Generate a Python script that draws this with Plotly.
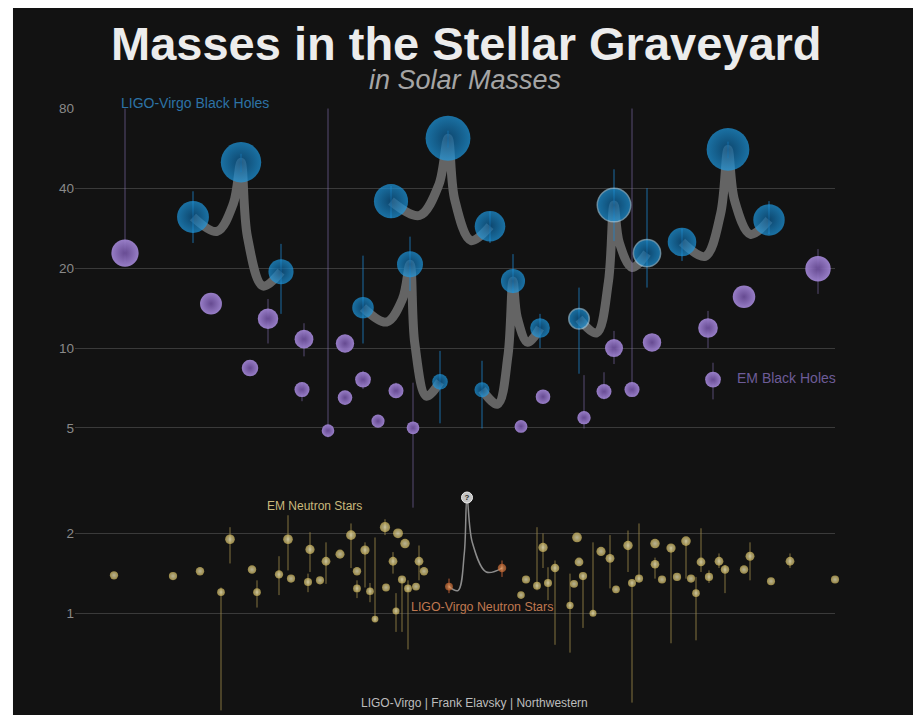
import numpy as np
import plotly.graph_objects as go

# LIGO-Virgo black hole mergers (left component, final remnant, right component)
merger_x_left = [118, 316, 288, 407, 504, 607]
merger_m_left = [31.2, 35.8, 14.2, 6.96, 12.9, 25.1]
merger_hi_left = [39.0, 40.8, 22.3, 8.95, 16.9, 28.2]
merger_lo_left = [24.9, 30.9, 10.4, 4.97, 8.0, 21.3]

merger_x_final = [166, 373, 335, 438, 539, 653]
merger_m_final = [50.2, 61.8, 20.7, 17.9, 34.6, 56.1]
merger_hi_final = [54.0, 66.0, 26.3, 22.6, 47.2, 60.0]
merger_lo_final = [46.0, 57.0, 16.4, 16.1, 25.3, 52.0]

merger_x_right = [206, 415, 365, 465, 572, 694]
merger_m_right = [19.4, 28.8, 7.46, 11.9, 22.8, 30.4]
merger_hi_right = [24.7, 32.7, 9.75, 13.45, 40.1, 35.8]
merger_lo_right = [13.45, 24.9, 5.2, 10.0, 16.9, 26.9]

merger_candidate = [False, False, False, False, True, False]

# EM black holes
em_bh_x = [50, 136, 175, 193, 229, 227, 253, 270, 270, 288, 303, 321,
           338, 446, 468, 509, 529, 539, 557, 577, 633, 638, 669, 743]
em_bh_m = [22.8, 14.7, 8.4, 12.9, 10.8, 6.97, 4.88, 10.4, 6.5, 7.6, 5.3, 6.9,
           5.0, 5.06, 6.55, 5.46, 6.85, 10.0, 6.97, 10.5, 11.9, 7.6, 15.6, 19.9]
em_bh_hi = [80, 14.7, 8.4, 15.3, 12.4, 7.4, 80, 10.4, 6.5, 8.2, 5.3, 7.4,
            7.4, 5.06, 6.55, 7.9, 8.1, 11.6, 80, 10.5, 13.8, 8.8, 15.6, 23.6]
em_bh_lo = [21.0, 14.7, 8.4, 10.4, 9.3, 6.3, 4.6, 10.4, 6.5, 7.0, 5.3, 6.5,
            2.5, 5.06, 6.55, 4.97, 6.4, 8.7, 6.6, 10.5, 10.0, 6.4, 15.6, 16.0]

# EM neutron stars
ns_x = [39, 98, 125, 146, 155, 177, 182, 204, 213, 216, 233, 235, 245, 251,
        265, 276, 282, 282, 290, 295, 300, 310, 323, 330, 318, 344, 349, 327,
        311, 333, 341, 321, 451, 446, 462, 468, 473, 480, 502, 504, 495, 499,
        508, 518, 526, 535, 541, 553, 557, 564, 580, 580, 587, 596, 602, 611,
        616, 621, 626, 634, 644, 650, 669, 675, 696, 715, 760]
ns_m = [1.39, 1.38, 1.44, 1.20, 1.90, 1.46, 1.20, 1.40, 1.90, 1.35, 1.31, 1.74,
        1.33, 1.57, 1.67, 1.97, 1.44, 1.24, 1.73, 1.21, 0.95, 2.11, 2.00, 1.83,
        1.57, 1.57, 1.44, 1.34, 1.25, 1.24, 1.26, 1.02, 1.34, 1.17, 1.27, 1.77,
        1.30, 1.48, 1.93, 1.56, 1.07, 1.29, 1.38, 1.00, 1.71, 1.61, 1.23, 1.80,
        1.30, 1.35, 1.83, 1.53, 1.34, 1.76, 1.37, 1.87, 1.35, 1.19, 1.56, 1.37,
        1.57, 1.46, 1.46, 1.64, 1.32, 1.57, 1.34]
ns_hi = [1.39, 1.38, 1.44, 1.25, 2.11, 1.46, 1.33, 1.64, 2.34, 1.35, 1.41, 2.02,
         1.33, 1.85, 1.67, 2.18, 1.44, 1.33, 1.85, 1.30, 1.93, 2.26, 2.00, 1.83,
         1.70, 1.80, 1.44, 1.36, 1.25, 1.33, 1.26, 1.19, 1.34, 1.17, 2.11, 2.00,
         1.49, 1.58, 1.93, 1.56, 1.41, 1.29, 1.40, 1.85, 1.71, 1.97, 1.23, 2.05,
         1.32, 2.18, 1.83, 1.62, 1.34, 1.78, 1.37, 1.89, 1.35, 1.37, 2.09, 1.45,
         1.68, 1.52, 1.46, 1.85, 1.32, 1.68, 1.34]
ns_lo = [1.39, 1.38, 1.44, 0.43, 1.54, 1.46, 1.05, 1.17, 1.45, 1.35, 1.20, 1.43,
         1.33, 1.29, 1.67, 1.48, 1.44, 1.14, 1.25, 1.10, 0.93, 1.97, 2.00, 1.83,
         1.41, 1.33, 1.44, 0.85, 1.25, 0.73, 1.26, 0.85, 1.34, 1.17, 1.22, 1.48,
         1.12, 0.76, 1.93, 1.56, 0.71, 1.29, 0.88, 0.98, 1.71, 1.24, 1.23, 1.43,
         0.46, 1.33, 1.83, 1.35, 1.34, 0.77, 1.37, 1.35, 1.35, 0.79, 1.43, 1.30,
         1.48, 1.19, 1.46, 1.33, 1.32, 1.48, 1.34]

# LIGO-Virgo neutron star merger
lv_ns_x = [374, 427]
lv_ns_m = [1.26, 1.48]
lv_ns_hi = [1.35, 1.58]
lv_ns_lo = [1.19, 1.37]
lv_ns_final_x = 392
lv_ns_final_m = 2.73

FONT = "Liberation Sans, Arial, sans-serif"


def err(m, hi, lo):
    m = np.array(m, dtype=float)
    return dict(type="data", symmetric=False, array=np.array(hi) - m,
                arrayminus=m - np.array(lo), width=0, thickness=1)


def merger_path(xl, ml, xf, mf, xr, mr, dip, near):
    l2 = np.log2
    ld = l2(ml) - dip
    rd = l2(mr) - dip
    top = l2(mf)
    xs = [xl, xl + 0.5 * (xf - xl), xf - near * (xf - xl), xf,
          xf + near * (xr - xf), xr - 0.45 * (xr - xf), xr]
    ls = [l2(ml), ld, top + 0.6 * (ld - top), top,
          top + 0.6 * (rd - top), rd, l2(mr)]
    return xs, 2 ** np.array(ls)


fig = go.Figure()

# merger connectors
for i in range(len(merger_x_final)):
    xs, ys = merger_path(merger_x_left[i], merger_m_left[i],
                         merger_x_final[i], merger_m_final[i],
                         merger_x_right[i], merger_m_right[i], 0.18, 0.16)
    fig.add_trace(go.Scatter(x=xs, y=ys, mode="lines", hoverinfo="skip",
                             line=dict(color="#646464", width=9, shape="spline", smoothing=1.0)))

xs, ys = merger_path(lv_ns_x[0], lv_ns_m[0], lv_ns_final_x, lv_ns_final_m,
                     lv_ns_x[1], lv_ns_m[1], 0.05, 0.15)
fig.add_trace(go.Scatter(x=xs, y=ys, mode="lines", hoverinfo="skip",
                         line=dict(color="#8c8c8c", width=1.5, shape="spline", smoothing=1.0)))

# EM black holes
fig.add_trace(go.Scatter(
    x=em_bh_x, y=em_bh_m, mode="markers",
    error_y=dict(err(em_bh_m, em_bh_hi, em_bh_lo), color="rgba(135,115,180,0.6)"),
    marker=dict(size=5.7 * np.sqrt(em_bh_m), color="#a387d6", opacity=0.92,
                gradient=dict(type="radial", color="#6d4f9c"), line=dict(width=0))))

# LIGO-Virgo black holes
bh_x = merger_x_left + merger_x_final + merger_x_right
bh_m = merger_m_left + merger_m_final + merger_m_right
bh_hi = merger_hi_left + merger_hi_final + merger_hi_right
bh_lo = merger_lo_left + merger_lo_final + merger_lo_right
cand = merger_candidate * 3
fig.add_trace(go.Scatter(
    x=bh_x, y=bh_m, mode="markers",
    error_y=dict(err(bh_m, bh_hi, bh_lo), color="rgba(30,130,200,0.8)"),
    marker=dict(size=5.7 * np.sqrt(bh_m), color="#1e9ae2",
                gradient=dict(type="radial", color="#0b5c94"),
                line=dict(width=[1.5 if c else 0 for c in cand],
                          color="rgba(170,215,240,0.8)"))))

# EM neutron stars
fig.add_trace(go.Scatter(
    x=ns_x, y=ns_m, mode="markers", cliponaxis=False,
    error_y=dict(err(ns_m, ns_hi, ns_lo), color="rgba(150,132,70,0.85)"),
    marker=dict(size=7 * np.sqrt(ns_m), color="#d4bb5c",
                gradient=dict(type="radial", color="#fff8cc"), line=dict(width=0))))

# LIGO-Virgo neutron stars
fig.add_trace(go.Scatter(
    x=lv_ns_x, y=lv_ns_m, mode="markers",
    error_y=dict(err(lv_ns_m, lv_ns_hi, lv_ns_lo), color="rgba(220,110,60,0.8)"),
    marker=dict(size=7 * np.sqrt(lv_ns_m), color="#c8652e",
                gradient=dict(type="radial", color="#f8ac70"), line=dict(width=0))))

fig.add_trace(go.Scatter(
    x=[lv_ns_final_x], y=[lv_ns_final_m], mode="markers+text", text=["?"],
    textposition="middle center",
    textfont=dict(family=FONT, size=8, color="#2a2a2a", weight="bold"),
    marker=dict(size=11, color="#c4c4c4", line=dict(width=1, color="#eeeeee"))))

# page body adds an 8px margin, so the figure is 8px smaller than the window
fig.update_layout(
    width=913, height=707, autosize=False,
    margin=dict(l=67, r=86, t=100, b=3),
    paper_bgcolor="white", plot_bgcolor="rgba(0,0,0,0)",
    showlegend=False,
    font=dict(family=FONT),
    shapes=[dict(type="rect", xref="paper", yref="paper", x0=-0.0816, x1=1.12,
                 y0=-0.01, y1=1.17, fillcolor="#121212", line=dict(width=0), layer="below")],
    xaxis=dict(range=[0, 760], visible=False),
    yaxis=dict(type="log", range=[np.log10(0.424), np.log10(80) + 0.002],
               tickvals=[1, 2, 5, 10, 20, 40, 80],
               ticktext=["1", "2", "5", "10", "20", "40", "80"],
               showgrid=True, gridcolor="#3a3a3a", gridwidth=1,
               zeroline=False, showline=False, ticks="",
               tickfont=dict(family=FONT, size=13.5, color="#8a8a8a")),
)

annots = [
    dict(text="Masses in the Stellar Graveyard", x=0.5145, y=1.1060,
         font=dict(size=47, color="#ececec", weight="bold")),
    dict(text="in Solar Masses", x=0.513, y=1.0460,
         font=dict(size=27, color="#a5a5a5", style="italic")),
    dict(text="LIGO-Virgo Black Holes", x=0.0579, y=1.0083, xanchor="left",
         font=dict(size=14, color="#2d73a6")),
    dict(text="EM Black Holes", x=0.8684, y=0.553, xanchor="left",
         font=dict(size=14, color="#6d5c98")),
    dict(text="EM Neutron Stars", x=0.25, y=0.341, xanchor="left",
         font=dict(size=12, color="#c9b97c")),
    dict(text="LIGO-Virgo Neutron Stars", x=0.4395, y=0.1738, xanchor="left",
         font=dict(size=12.4, color="#c07850")),
    dict(text="LIGO-Virgo | Frank Elavsky | Northwestern", x=0.526, y=0.0149,
         font=dict(size=12, color="#bdbdbd")),
]
for a in annots:
    a.setdefault("xanchor", "center")
    a["font"]["family"] = FONT
    fig.add_annotation(xref="paper", yref="paper", yanchor="middle",
                       showarrow=False, **a)

fig.write_html("out.html")
